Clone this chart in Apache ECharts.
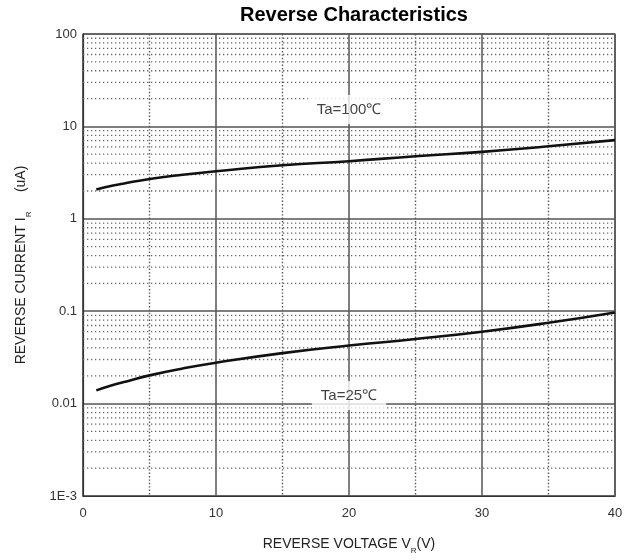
<!DOCTYPE html>
<html>
<head>
<meta charset="utf-8">
<script src="https://cdn.jsdelivr.net/npm/echarts@6/dist/echarts.min.js"></script>
<style>html,body{margin:0;padding:0;background:#fff;}#c{width:639px;height:560px;}</style>
</head>
<body>
<div id="c"></div>
<script>
var voltage = [1, 2, 3, 5, 7.5, 10, 15, 20, 25, 30, 35, 40];
var current100 = [2.07, 2.25, 2.4, 2.7, 3.0, 3.27, 3.8, 4.2, 4.75, 5.3, 6.1, 7.1];
var current25 = [0.0139, 0.0155, 0.0170, 0.0202, 0.0240, 0.0277, 0.0352, 0.0425, 0.050, 0.060, 0.075, 0.097];
var labelText = ['Ta=100℃', 'Ta=25℃'];
var labelX = [20, 20];
var labelY = [15.2, 0.0122];
var decades = [0.001, 0.01, 0.1, 1, 10];
var minorMult = [2, 3, 4, 5, 6, 7, 8, 9];
var xRange = [0, 40];

var FONT = 'Liberation Sans, Arial, sans-serif';
var minorValues = [];
decades.forEach(function (d) {
  minorMult.forEach(function (m) { minorValues.push(+(d * m).toPrecision(3)); });
});

var minorSeries = minorValues.map(function (v) {
  return {
    type: 'line', silent: true, symbol: 'none', z: 1,
    lineStyle: { color: '#666', width: 1.3, type: [1.3, 2.7] },
    data: [[xRange[0], v], [xRange[1], v]]
  };
});

var chart = echarts.init(document.getElementById('c'), null, { renderer: 'canvas' });
chart.setOption({
  backgroundColor: '#fff',
  animation: false,
  title: {
    text: 'Reverse Characteristics',
    left: 349, top: 0, textAlign: 'center',
    textStyle: { fontFamily: FONT, fontSize: 20, fontWeight: 'bold', color: '#000' }
  },
  grid: { left: 83, right: 24, top: 34, bottom: 63, show: true, borderColor: '#333', borderWidth: 1.2 },
  xAxis: {
    type: 'value', min: 0, max: 40, interval: 10,
    name: 'REVERSE VOLTAGE V{sub|R}(V)',
    nameLocation: 'middle', nameGap: 37,
    nameTextStyle: {
      fontFamily: FONT, fontSize: 14, color: '#222',
      rich: { sub: { fontFamily: FONT, fontSize: 8, color: '#222', verticalAlign: 'bottom', lineHeight: 22 } }
    },
    axisLine: { show: true, lineStyle: { color: '#333', width: 1.2 } },
    axisTick: { show: false },
    axisLabel: { margin: 11, fontFamily: FONT, fontSize: 13, color: '#333' },
    splitLine: { show: true, lineStyle: { color: '#555', width: 1.5 } },
    minorTick: { show: false, splitNumber: 2 },
    minorSplitLine: { show: true, lineStyle: { color: '#555', width: 1.4, type: [1.4, 2] } }
  },
  yAxis: {
    type: 'log', logBase: 10, min: 0.001, max: 100,
    name: 'REVERSE CURRENT I{sub|R}     (uA)',
    nameLocation: 'middle', nameGap: 50, nameRotate: 90,
    nameTextStyle: {
      fontFamily: FONT, fontSize: 14, color: '#222',
      rich: { sub: { fontFamily: FONT, fontSize: 8, color: '#222', verticalAlign: 'bottom', lineHeight: 24 } }
    },
    axisLine: { show: true, lineStyle: { color: '#333', width: 1.2 } },
    axisTick: { show: false },
    axisLabel: {
      margin: 6, fontFamily: FONT, fontSize: 13, color: '#333',
      formatter: function (v) {
        if (Math.abs(v - 0.001) < 1e-9) return '1E-3';
        return String(+v.toPrecision(3));
      }
    },
    splitLine: { show: true, lineStyle: { color: '#555', width: 1.5 } }
  },
  series: minorSeries.concat([
    {
      type: 'line', smooth: true, symbol: 'none', z: 5,
      lineStyle: { color: '#111', width: 2.6 },
      data: voltage.map(function (v, i) { return [v, current100[i]]; })
    },
    {
      type: 'line', smooth: true, symbol: 'none', z: 5,
      lineStyle: { color: '#111', width: 2.6 },
      data: voltage.map(function (v, i) { return [v, current25[i]]; })
    },
    {
      type: 'scatter', symbolSize: 0, z: 10, silent: true,
      data: labelText.map(function (t, i) { return { value: [labelX[i], labelY[i]], name: t }; }),
      label: {
        show: true, position: 'inside', formatter: '{b}',
        fontFamily: FONT, fontSize: 15, color: '#111',
        backgroundColor: '#fff', padding: [7, 9, 7, 9]
      }
    }
  ])
});
</script>
</body>
</html>
